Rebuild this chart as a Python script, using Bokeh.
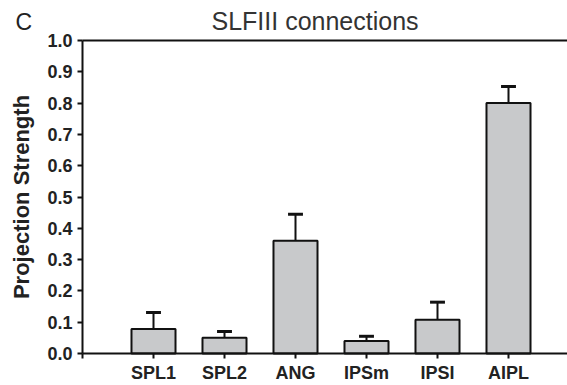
from bokeh.plotting import figure
from bokeh.models import (Range1d, FixedTicker, Label, PrintfTickFormatter,
                          ColumnDataSource, LinearAxis)
from bokeh.embed import file_html
from bokeh.resources import INLINE

categories = ["SPL1", "SPL2", "ANG", "IPSm", "IPSI", "AIPL"]
strength = [0.078, 0.050, 0.360, 0.040, 0.108, 0.800]
sem = [0.053, 0.020, 0.085, 0.015, 0.056, 0.053]
y_ticks = [0.0, 0.1, 0.2, 0.3, 0.4, 0.5, 0.6, 0.7, 0.8, 0.9, 1.0]
title_text = "SLFIII connections"
panel_letter = "C"
y_label = "Projection Strength"

# ---- layout (pixels) ----
W, H = 567, 385
AX_LEFT_PX = 82      # y axis position
AX_TOP_PX = 40       # y = 1.0
AX_BOT_PX = 353      # y = 0.0
CAT_STEP_PX = 71     # spacing between categories
X_AXIS_START = -1.0
X_AXIS_END = 5.83
Y_MAX = 1.0

ppu_y = (AX_BOT_PX - AX_TOP_PX) / Y_MAX
x_start = X_AXIS_START - AX_LEFT_PX / CAT_STEP_PX
x_end = x_start + W / CAT_STEP_PX
y_start = -(H - AX_BOT_PX) / ppu_y
y_end = Y_MAX + AX_TOP_PX / ppu_y

xs = list(range(len(categories)))
upper = [s + e for s, e in zip(strength, sem)]
cap_half = 0.105
src = ColumnDataSource(dict(
    x=xs, top=strength, upper=upper,
    cx0=[x - cap_half for x in xs], cx1=[x + cap_half for x in xs],
))

FONT = "Liberation Sans"
TXT = "#222222"
LINE = "#111111"

p = figure(width=W, height=H, output_backend="svg", toolbar_location=None,
           x_range=Range1d(x_start, x_end), y_range=Range1d(y_start, y_end),
           x_axis_location=None, y_axis_location=None,
           min_border=0, min_border_left=0, min_border_right=0,
           min_border_top=0, min_border_bottom=0)
p.grid.visible = False
p.outline_line_color = None
p.background_fill_color = "white"
p.border_fill_color = "white"

# bars
p.vbar(x="x", top="top", bottom=0, width=0.62, source=src,
       fill_color="#c8c9cb", line_color=LINE, line_width=2)
# error bars (upper only)
p.segment(x0="x", y0="top", x1="x", y1="upper", source=src, line_color=LINE, line_width=2)
p.segment(x0="cx0", y0="upper", x1="cx1", y1="upper", source=src, line_color=LINE, line_width=3)

# x axis
xa = LinearAxis(fixed_location=0.0, bounds=(X_AXIS_START, X_AXIS_END))
xa.ticker = FixedTicker(ticks=[X_AXIS_START] + xs)
overrides = {-1: ""}
for i, c in zip(xs, categories):
    overrides[i] = c
xa.major_label_overrides = overrides
xa.minor_tick_line_color = None
xa.major_tick_in = 0
xa.major_tick_out = 5
xa.major_tick_line_width = 2
xa.axis_line_width = 2
xa.axis_line_color = LINE
xa.major_tick_line_color = LINE
xa.major_label_text_font = FONT
xa.major_label_text_font_style = "bold"
xa.major_label_text_font_size = "18px"
xa.major_label_text_color = TXT
xa.major_label_standoff = 4
p.add_layout(xa, "below")

# top frame line
ta = LinearAxis(fixed_location=Y_MAX, bounds=(X_AXIS_START, X_AXIS_END))
ta.ticker = FixedTicker(ticks=[])
ta.major_label_text_font_size = "0px"
ta.minor_tick_line_color = None
ta.major_tick_line_color = None
ta.axis_line_width = 2
ta.axis_line_color = LINE
p.add_layout(ta, "above")

# y axis
ya = LinearAxis(fixed_location=X_AXIS_START, bounds=(0, Y_MAX))
ya.ticker = FixedTicker(ticks=y_ticks)
ya.formatter = PrintfTickFormatter(format="%.1f")
ya.minor_tick_line_color = None
ya.major_tick_in = 0
ya.major_tick_out = 5
ya.major_tick_line_width = 2
ya.axis_line_width = 2
ya.axis_line_color = LINE
ya.major_tick_line_color = LINE
ya.major_label_text_font = FONT
ya.major_label_text_font_style = "bold"
ya.major_label_text_font_size = "18px"
ya.major_label_text_color = TXT
ya.major_label_standoff = 5
ya.axis_label = y_label
ya.axis_label_text_font = FONT
ya.axis_label_text_font_style = "bold"
ya.axis_label_text_font_size = "22px"
ya.axis_label_text_color = TXT
ya.axis_label_standoff = 10
p.add_layout(ya, "left")

# title and panel letter (screen units, from the canvas bottom-left)
p.add_layout(Label(x=211, y=H - 20, x_units="screen", y_units="screen", text=title_text,
                   text_font=FONT, text_font_size="25px", text_color="#333333",
                   text_align="left", text_baseline="alphabetic"))
p.add_layout(Label(x=15, y=H - 21, x_units="screen", y_units="screen", text=panel_letter,
                   text_font=FONT, text_font_size="23px", text_color=TXT,
                   text_align="left", text_baseline="alphabetic"))

open("out.html", "w").write(file_html(p, INLINE))
